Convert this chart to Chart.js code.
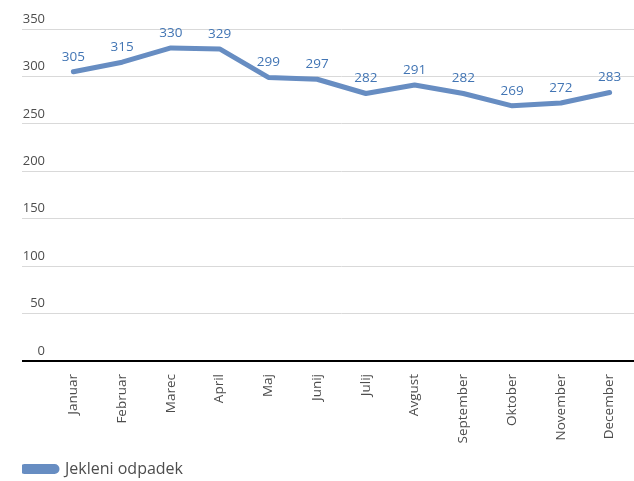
<!DOCTYPE html>
<html>
<head>
<meta charset="utf-8">
<script src="https://cdn.jsdelivr.net/npm/chart.js@4.4.1/dist/chart.umd.min.js"></script>
<style>
  html, body { margin: 0; padding: 0; background: #fff; }
  #wrap { width: 634px; height: 481px; }
</style>
</head>
<body>
<div id="wrap"><canvas id="chart"></canvas></div>
<script>
// ---- podatki ----
const months = ['Januar','Februar','Marec','April','Maj','Junij','Julij','Avgust','September','Oktober','November','December'];
const seriesName = 'Jekleni odpadek';
const values = [305, 315, 330, 329, 299, 297, 282, 291, 282, 269, 272, 283];
const yTicks = [0, 50, 100, 150, 200, 250, 300, 350];

const FONT = "'Open Sans', sans-serif";
const LINE = '#678dc2';
const LABEL = '#4275b4';
const TEXT = '#4d4d4d';

Chart.defaults.font.family = FONT;
Chart.defaults.font.size = 13;
Chart.defaults.color = TEXT;

// vrednosti nad točkami
const valueLabels = {
  id: 'valueLabels',
  afterDatasetsDraw(chart) {
    const ctx = chart.ctx;
    const meta = chart.getDatasetMeta(0);
    ctx.save();
    ctx.font = '13.5px ' + FONT;
    ctx.fillStyle = LABEL;
    ctx.textAlign = 'center';
    ctx.textBaseline = 'middle';
    meta.data.forEach((pt, i) => {
      ctx.fillText(String(values[i]), pt.x, pt.y - 15);
    });
    ctx.restore();
  }
};

new Chart(document.getElementById('chart'), {
  type: 'line',
  data: {
    labels: months,
    datasets: [{
      label: seriesName,
      data: values,
      borderColor: LINE,
      backgroundColor: LINE,
      borderWidth: 5,
      borderCapStyle: 'round',
      borderJoinStyle: 'round',
      tension: 0,
      pointRadius: 0,
      fill: false
    }]
  },
  options: {
    responsive: true,
    maintainAspectRatio: false,
    animation: false,
    layout: { padding: { left: 22, right: 0, top: 29, bottom: 0 } },
    plugins: {
      legend: {
        position: 'bottom',
        align: 'start',
        maxHeight: 20,
        labels: {
          color: TEXT,
          font: { size: 16 },
          boxWidth: 35,
          boxHeight: 5,
          padding: 0,
          useBorderRadius: true,
          borderRadius: 2.5
        }
      },
      tooltip: { enabled: false }
    },
    scales: {
      x: {
        type: 'category',
        offset: true,
        grid: { display: false },
        border: { display: false },
        ticks: {
          autoSkip: false,
          minRotation: 90,
          maxRotation: 90,
          padding: 5,
          color: TEXT,
          font: { size: 13.5 }
        },
        afterFit(scale) { scale.height = 100; }
      },
      y: {
        min: 0,
        max: 350,
        afterBuildTicks(scale) { scale.ticks = yTicks.map(v => ({ value: v })); },
        afterFit(scale) { scale.width = 27; },
        border: { display: false },
        grid: {
          color: c => c.tick && c.tick.value === 0 ? '#000000' : '#d9d9d9',
          lineWidth: c => c.tick && c.tick.value === 0 ? 2 : 1,
          tickLength: 27,
          drawTicks: true
        },
        ticks: {
          padding: -23,
          labelOffset: -10,
          color: TEXT
        }
      }
    }
  },
  plugins: [valueLabels]
});
</script>
</body>
</html>
